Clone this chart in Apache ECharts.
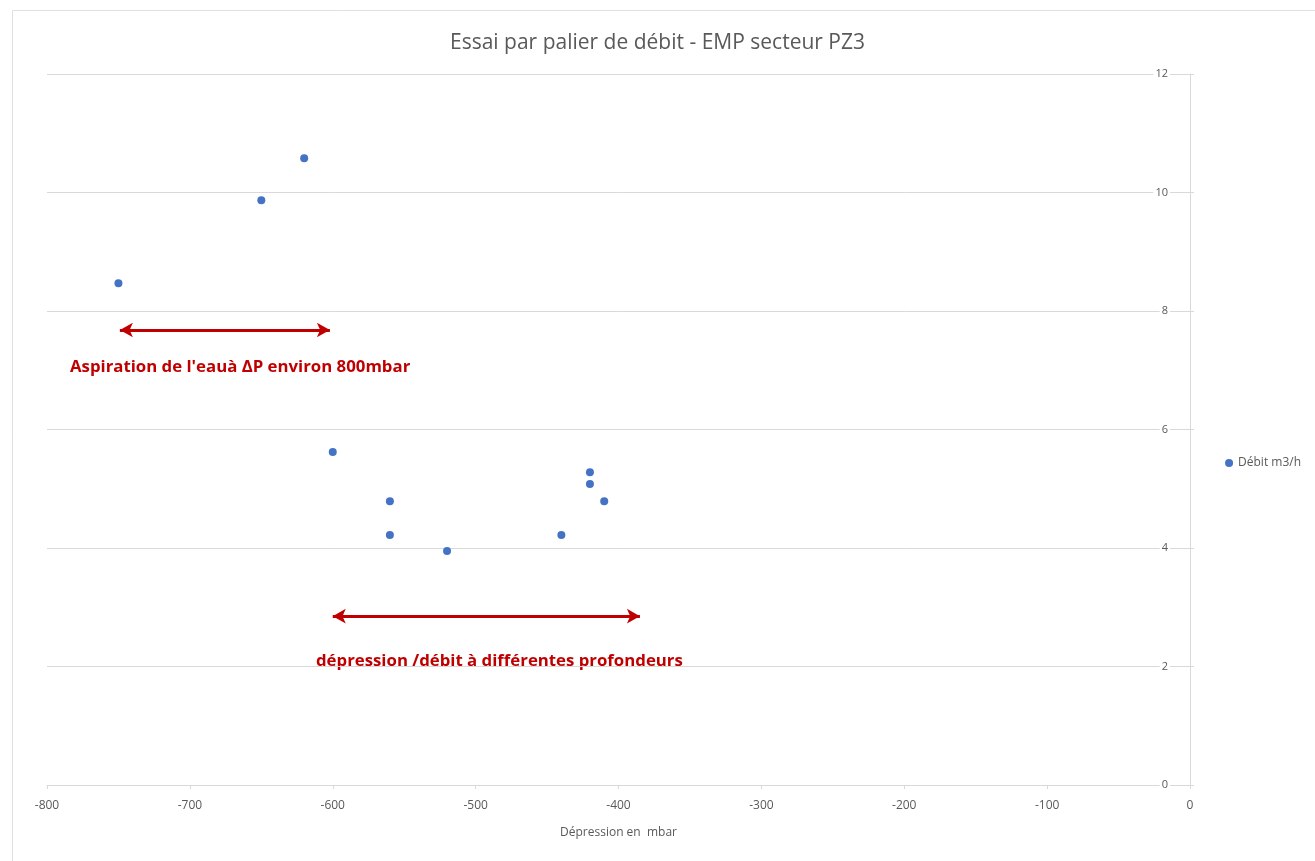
<!DOCTYPE html>
<html>
<head>
<meta charset="utf-8">
<script src="https://cdn.jsdelivr.net/npm/echarts@6/dist/echarts.min.js"></script>
<style>
  html, body { margin: 0; padding: 0; background: #fff; }
  #chart { width: 1315px; height: 861px; }
</style>
</head>
<body>
<div id="chart"></div>
<script>
// Pressure drop (mbar) and matching flow rate (m3/h) for each step
const depression = [-750, -650, -620, -600, -560, -560, -520, -440, -420, -420, -410];
const debit = [8.47, 9.87, 10.58, 5.62, 4.79, 4.22, 3.95, 4.22, 5.28, 5.08, 4.79];

// Arrow spans annotating the two regimes: [xStart, xEnd, y]
const arrowAspiration = [-749, -602, 7.68];
const arrowPaliers = [-600, -385, 2.85];

const xTicks = { min: -800, max: 0, interval: 100 };
const yTicks = { min: 0, max: 12, interval: 2 };

const grey = '#595959';
const gridGrey = '#d9d9d9';
const red = '#c00000';
const font = '"Open Sans", "Noto Sans", sans-serif';

function arrow(span) {
  return [
    { coord: [span[0], span[2]] },
    { coord: [span[1], span[2]] }
  ];
}

const chart = echarts.init(document.getElementById('chart'));
chart.setOption({
  animation: false,
  backgroundColor: '#fff',
  title: {
    text: 'Essai par palier de débit - EMP secteur PZ3',
    left: 'center',
    top: 28,
    textStyle: { color: grey, fontSize: 21, fontWeight: 'normal', fontFamily: font }
  },
  legend: {
    right: 9,
    top: 452,
    orient: 'vertical',
    icon: 'circle',
    itemWidth: 8,
    itemHeight: 8,
    itemGap: 4,
    textStyle: { color: grey, fontSize: 12, fontFamily: font },
    data: ['Débit m3/h']
  },
  grid: { left: 47, right: 125, top: 74, bottom: 76 },
  xAxis: {
    type: 'value',
    min: xTicks.min,
    max: xTicks.max,
    interval: xTicks.interval,
    name: 'Dépression en  mbar',
    nameLocation: 'middle',
    nameGap: 42,
    nameTextStyle: { color: grey, fontSize: 12, fontFamily: font },
    axisLine: { show: true, onZero: false, lineStyle: { color: gridGrey } },
    axisTick: { show: true, length: 4, lineStyle: { color: gridGrey } },
    axisLabel: { color: grey, fontSize: 12, margin: 15, fontFamily: font },
    splitLine: { show: false }
  },
  yAxis: {
    type: 'value',
    position: 'right',
    min: yTicks.min,
    max: yTicks.max,
    interval: yTicks.interval,
    axisLine: { show: true, lineStyle: { color: gridGrey } },
    axisTick: { show: true, length: 4, lineStyle: { color: gridGrey } },
    axisLabel: {
      inside: true,
      color: grey,
      fontSize: 11,
      margin: 20,
      fontFamily: font,
      backgroundColor: '#fff',
      padding: [0, 2]
    },
    splitLine: { show: true, lineStyle: { color: gridGrey, width: 1 } }
  },
  series: [
    {
      name: 'Débit m3/h',
      type: 'scatter',
      symbol: 'circle',
      symbolSize: 8,
      itemStyle: { color: '#4472c4', opacity: 1 },
      data: depression.map((x, i) => [x, debit[i]]),
      markLine: {
        silent: true,
        symbol: ['arrow', 'arrow'],
        symbolSize: [11, 13],
        label: { show: false },
        lineStyle: { color: red, width: 3, type: 'solid', opacity: 1 },
        data: [arrow(arrowAspiration), arrow(arrowPaliers)]
      }
    }
  ],
  graphic: [
    {
      type: 'rect',
      left: 10,
      top: 8,
      shape: { width: 1310, height: 860 },
      style: { fill: 'none', stroke: '#e0e0e0', lineWidth: 1 },
      silent: true
    },
    {
      type: 'text',
      left: 70,
      top: 359,
      style: {
        text: "Aspiration de l'eauà ΔP environ 800mbar",
        fill: red,
        font: 'bold 16.8px "Open Sans", "Noto Sans", sans-serif'
      }
    },
    {
      type: 'rect',
      left: 300,
      top: 651,
      shape: { width: 412, height: 28 },
      style: { fill: '#fff' },
      silent: true
    },
    {
      type: 'text',
      left: 316,
      top: 653,
      style: {
        text: 'dépression /débit à différentes profondeurs',
        fill: red,
        font: 'bold 16.8px "Open Sans", "Noto Sans", sans-serif'
      }
    }
  ]
});
</script>
</body>
</html>
